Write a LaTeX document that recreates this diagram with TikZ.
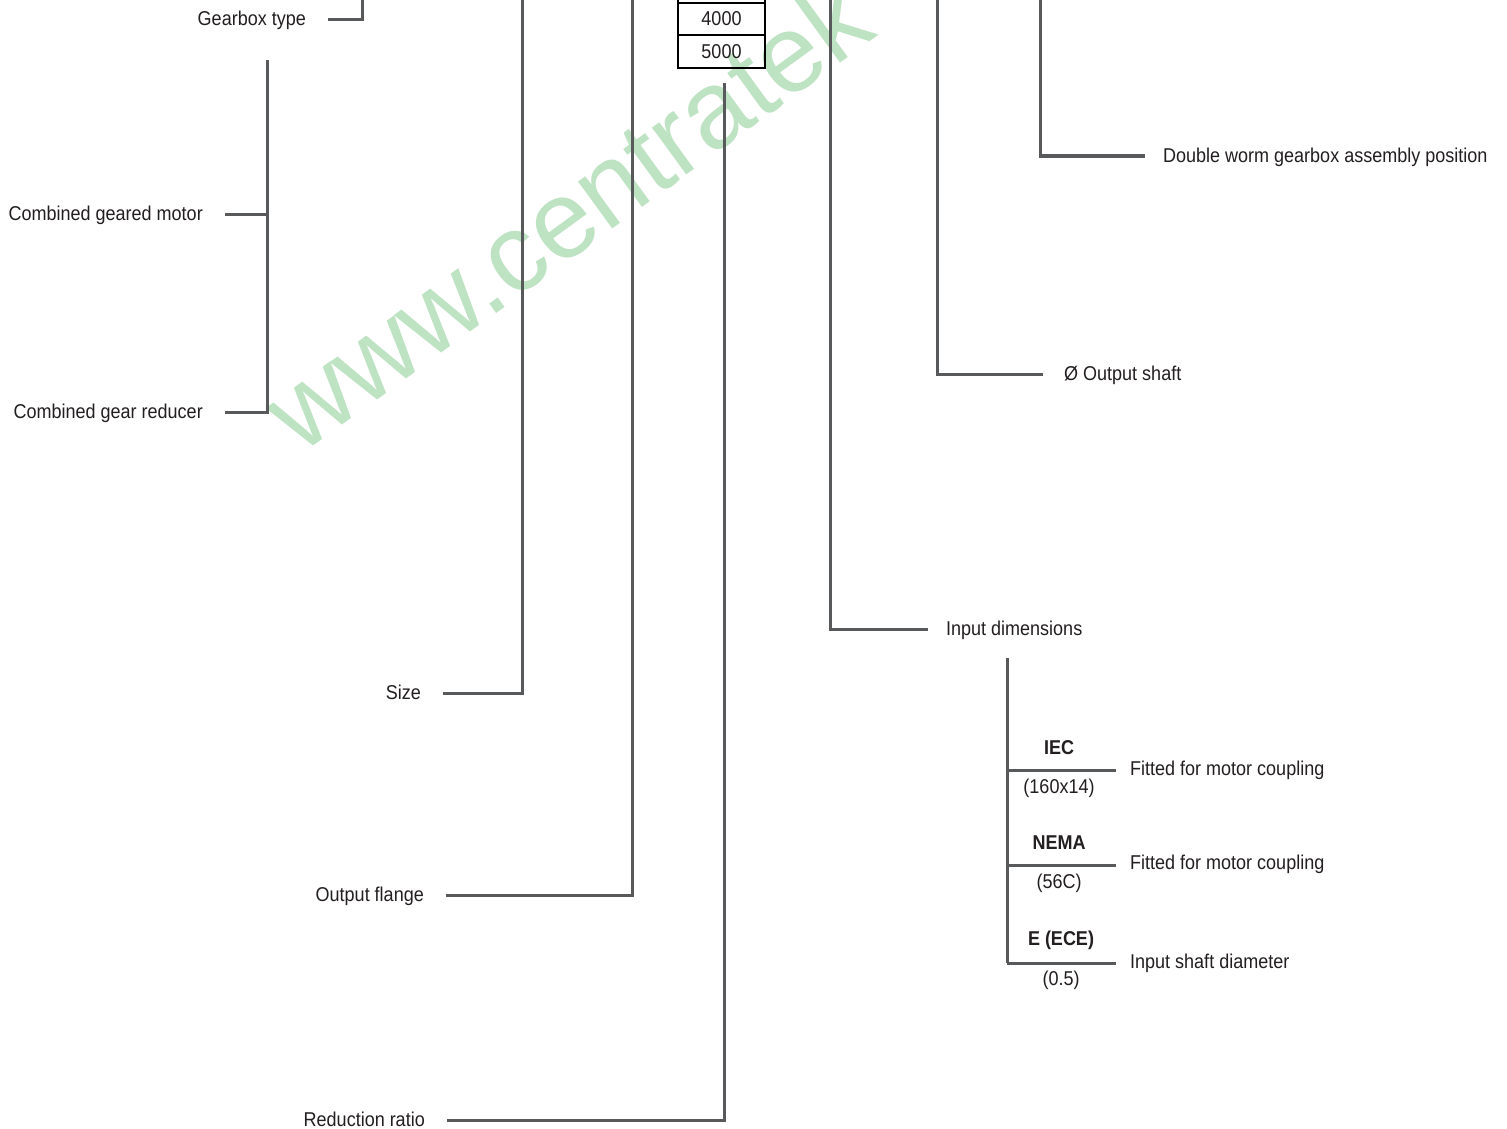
\documentclass[tikz,border=0pt]{standalone}
\usepackage{fontspec}
\setmainfont{Liberation Sans}[FakeStretch=0.9]
\newfontfamily\wmfont{Liberation Sans}
\definecolor{linegray}{HTML}{58595B}
\definecolor{txt}{HTML}{231F20}
\definecolor{wmgreen}{HTML}{BEE3C3}
\begin{document}
\begin{tikzpicture}[x=1pt,y=-1pt,
  conn/.style={draw=linegray,line width=3pt},
  boxrow/.style={draw=black,line width=1.6pt},
  lblL/.style={anchor=base east,inner xsep=22pt,inner ysep=0pt,text=txt,font=\fontsize{20}{23}\selectfont},
  lblR/.style={anchor=base west,inner xsep=18pt,inner ysep=0pt,text=txt,font=\fontsize{20}{23}\selectfont},
  sublbl/.style={anchor=center,inner sep=0pt,text=txt,font=\fontsize{20}{23}\selectfont},
  subbold/.style={anchor=center,inner sep=0pt,text=txt,font=\fontsize{20}{23}\selectfont\bfseries}]
\useasboundingbox (0,0) rectangle (1507,1129);
\clip (0,0) rectangle (1507,1129);
\fill[white] (0,0) rectangle (1507,1129);
% watermark
\node[anchor=base west,rotate=36,inner sep=0pt,text=wmgreen,font=\wmfont\fontsize{110}{120}\selectfont] (wm) at (300,456) {www.centratek};
% trunk end coordinates
\coordinate (gtTop) at (362,0);
\coordinate (brTop) at (267,60);
\coordinate (brMid) at (267,214);
\coordinate (szTop) at (522,0);
\coordinate (ofTop) at (632,0);
\coordinate (rrTop) at (724,83);
\coordinate (idTop) at (830,0);
\coordinate (osTop) at (937,0);
\coordinate (dwTop) at (1040,0);
\coordinate (inTop) at (1007,658);
\coordinate (inIEC) at (1007,770);
\coordinate (inNEMA) at (1007,865);
\coordinate (inE) at (1007,963);
% left labels (baseline 6px below the connector)
\node[lblL] (gt) at (328,26) {Gearbox type};
\node[lblL] (cgm) at (225,220) {Combined geared motor};
\node[lblL] (cgr) at (225,418) {Combined gear reducer};
\node[lblL] (sz) at (443,699) {Size};
\node[lblL] (of) at (446,901) {Output flange};
\node[lblL] (rr) at (447,1126) {Reduction ratio};
% right labels
\node[lblR] (id) at (928,635) {Input dimensions};
\node[lblR,inner xsep=21pt] (os) at (1043,380) {Ø Output shaft};
\node[lblR] (dw) at (1145,162) {Double worm gearbox assembly position};
\node[lblR,inner xsep=14pt] (fm1) at (1116,775) {Fitted for motor coupling};
\node[lblR,inner xsep=14pt] (fm2) at (1116,869) {Fitted for motor coupling};
\node[lblR,inner xsep=14pt] (isd) at (1116,968) {Input shaft diameter};
% sub labels
\node[subbold] (iec) at (1059,748) {IEC};
\node[sublbl] (iecv) at (1059,788) {(160x14)};
\node[subbold] (nema) at (1059,843) {NEMA};
\node[sublbl] (nemav) at (1059,883) {(56C)};
\node[subbold] (ece) at (1061,940) {E (ECE)};
\node[sublbl] (ecev) at (1061,980) {(0.5)};
% boxes
\draw[boxrow] (678,-29) rectangle (765,3);
\node[boxrow,minimum width=87pt,minimum height=32pt,inner sep=0pt,text=txt,font=\fontsize{20}{23}\selectfont] (b4) at (721.5,19) {4000};
\node[boxrow,minimum width=87pt,minimum height=33pt,inner sep=0pt,text=txt,font=\fontsize{20}{23}\selectfont] (b5) at (721.5,51.5) {5000};
% connectors
\draw[conn] (gt.base east) ++(0,-6) -| (gtTop);
\draw[conn] (cgr.base east) ++(0,-6) -| (brTop);
\draw[conn] (cgm.base east) ++(0,-6) -- (brMid);
\draw[conn] (sz.base east) ++(0,-6) -| (szTop);
\draw[conn] (of.base east) ++(0,-6) -| (ofTop);
\draw[conn] (rr.base east) ++(0,-6) -| (rrTop);
\draw[conn] (id.base west) ++(0,-6) -| (idTop);
\draw[conn] (os.base west) ++(0,-6) -| (osTop);
\draw[conn] (dw.base west) ++(0,-6) -| (dwTop);
\draw[conn] (inTop) -- (inE);
\draw[conn] (inIEC) -- (fm1.base west |- inIEC);
\draw[conn] (inNEMA) -- (fm2.base west |- inNEMA);
\draw[conn] (inE) -- (isd.base west |- inE);
\end{tikzpicture}
\end{document}
